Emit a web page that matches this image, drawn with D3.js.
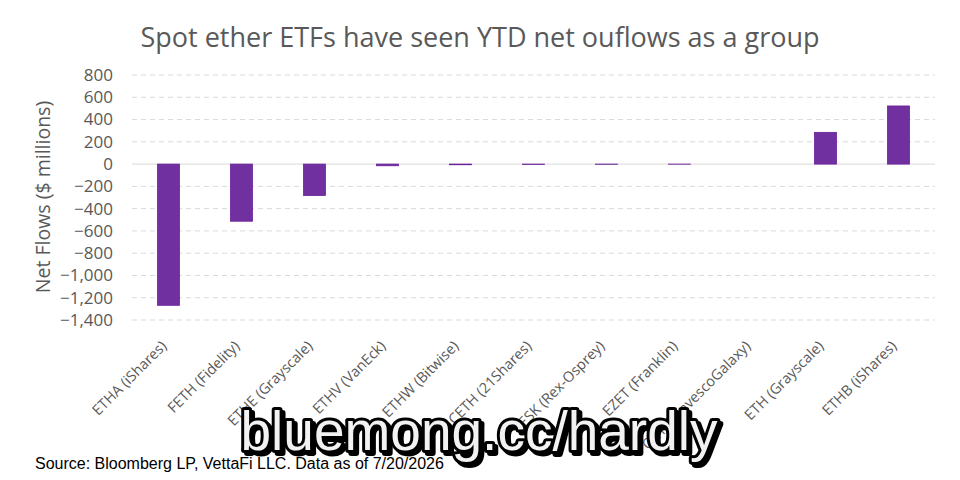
<!DOCTYPE html>
<html>
<head>
<meta charset="utf-8">
<script src="https://cdn.jsdelivr.net/npm/d3@7"></script>
<style>
  body { margin: 0; background: #fff; }
  svg text { font-family: "Open Sans", sans-serif; }
</style>
</head>
<body>
<div id="chart"></div>
<script>
// Fund tickers (x axis categories)
const funds = [
  "ETHA (iShares)", "FETH (Fidelity)", "ETHE (Grayscale)", "ETHV (VanEck)",
  "ETHW (Bitwise)", "CETH (21Shares)", "ESK (Rex-Osprey)", "EZET (Franklin)",
  "QETH (InvescoGalaxy)", "ETH (Grayscale)", "ETHB (iShares)"
];

// YTD net flows, $ millions
const flows = [-1268, -513, -282, -15, -6, -3, -2, -1, 0, 285, 522];

// Y axis ticks
const yTicks = [800, 600, 400, 200, 0, -200, -400, -600, -800, -1000, -1200, -1400];

const title = "Spot ether ETFs have seen YTD net ouflows as a group";
const yTitle = "Net  Flows ($ millions)";
const source = "Source: Bloomberg LP, VettaFi LLC. Data as of 7/20/2026";
const watermark = "bluemong.cc/hardly";

const w = 960, h = 480;
const mg = { left: 132, right: 25, top: 75, bottom: 160 };

const svg = d3.select("#chart").append("svg")
  .attr("width", w)
  .attr("height", h);

// Drop shadow for the watermark
const defs = svg.append("defs");
const shadow = defs.append("filter")
  .attr("id", "wm-shadow")
  .attr("x", "-10%").attr("y", "-30%")
  .attr("width", "120%").attr("height", "160%");
shadow.append("feDropShadow")
  .attr("dx", 3).attr("dy", 3)
  .attr("stdDeviation", 0.6)
  .attr("flood-color", "#000")
  .attr("flood-opacity", 1);

// Scales
const x = d3.scaleBand()
  .domain(funds)
  .range([mg.left, w - mg.right])
  .paddingInner(0.7)
  .paddingOuter(0.35);

const y = d3.scaleLinear()
  .domain([-1400, 800])
  .range([h - mg.bottom, mg.top]);

// Grid lines (dashed), zero line solid
svg.append("g")
  .selectAll("line")
  .data(yTicks)
  .join("line")
  .attr("x1", mg.left)
  .attr("x2", w - mg.right)
  .attr("y1", d => y(d))
  .attr("y2", d => y(d))
  .attr("stroke", "#d9d9d9")
  .attr("stroke-width", 1)
  .attr("stroke-dasharray", d => d === 0 ? null : "5,4");

// Y axis labels
const yAxis = d3.axisLeft(y)
  .tickValues(yTicks)
  .tickSize(0)
  .tickPadding(0)
  .tickFormat(d3.format(",.0f"));

svg.append("g")
  .attr("transform", `translate(${mg.left - 19},0)`)
  .call(yAxis)
  .call(g => g.select(".domain").remove())
  .selectAll("text")
  .attr("fill", "#595959")
  .style("font-size", "17px")
  .style("font-family", "'Open Sans', sans-serif");

// Bars
svg.append("g")
  .selectAll("rect")
  .data(flows)
  .join("rect")
  .attr("x", (d, i) => x(funds[i]))
  .attr("width", x.bandwidth())
  .attr("y", d => y(Math.max(0, d)))
  .attr("height", d => Math.abs(y(d) - y(0)))
  .attr("fill", "#7030a0")
  .attr("stroke", "#6a1f9a")
  .attr("stroke-width", 0.8);

// X category labels, rotated
svg.append("g")
  .selectAll("text")
  .data(funds)
  .join("text")
  .attr("transform", d => `translate(${x(d) + x.bandwidth() / 2 - 1},${h - mg.bottom + 27}) rotate(-45)`)
  .attr("text-anchor", "end")
  .attr("fill", "#595959")
  .style("font-size", "14.5px")
  .text(d => d);

// Title
svg.append("text")
  .attr("x", 480)
  .attr("y", 47)
  .attr("text-anchor", "middle")
  .attr("fill", "#595959")
  .style("font-size", "27px")
  .text(title);

// Y axis title
svg.append("text")
  .attr("transform", "translate(50,197) rotate(-90)")
  .attr("text-anchor", "middle")
  .attr("fill", "#595959")
  .style("font-size", "19.5px")
  .text(yTitle);

// Watermark over the labels
svg.append("text")
  .attr("x", 479)
  .attr("y", 450)
  .attr("text-anchor", "middle")
  .attr("filter", "url(#wm-shadow)")
  .style("font-family", "Arial, 'Liberation Sans', sans-serif")
  .style("font-size", "55px")
  .attr("fill", "#f2f2f2")
  .attr("stroke", "#000")
  .attr("stroke-width", 6)
  .attr("stroke-linejoin", "round")
  .attr("paint-order", "stroke")
  .text(watermark);

// Source note
svg.append("text")
  .attr("x", 35)
  .attr("y", 469)
  .attr("fill", "#000")
  .style("font-family", "Arial, 'Liberation Sans', sans-serif")
  .style("font-size", "16px")
  .text(source);
</script>
</body>
</html>
